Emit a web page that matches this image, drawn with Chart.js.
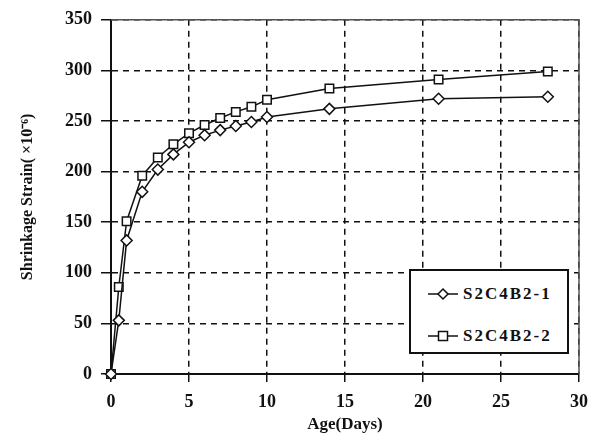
<!DOCTYPE html>
<html>
<head>
<meta charset="utf-8">
<script src="https://cdn.jsdelivr.net/npm/chart.js@4.4.0/dist/chart.umd.min.js"></script>
<style>
  body { margin: 0; background: #fff; }
  #wrap { position: relative; width: 602px; height: 441px; }
  #legend {
    position: absolute; left: 409px; top: 269px; width: 156px; height: 81px;
    border: 2px solid #111; background: #fff;
    font: bold 17px "Liberation Serif", "Times New Roman", serif; letter-spacing: 2px; color: #111;
  }
  .item { position: absolute; left: 16px; display: flex; align-items: center; }
  .item svg { margin-right: 4px; }
</style>
</head>
<body>
<div id="wrap">
  <canvas id="chart" width="602" height="441"></canvas>
  <div id="legend">
    <div class="item" style="top:13px">
      <svg width="32" height="14"><line x1="1" y1="7" x2="31" y2="7" stroke="#111" stroke-width="1.5"/><polygon points="16,2 21,7 16,12 11,7" fill="#fff" stroke="#111" stroke-width="1.5"/></svg>
      <span>S2C4B2-1</span>
    </div>
    <div class="item" style="top:55px">
      <svg width="32" height="14"><line x1="1" y1="7" x2="31" y2="7" stroke="#111" stroke-width="1.5"/><rect x="11.5" y="2.5" width="9" height="9" fill="#fff" stroke="#111" stroke-width="1.5"/></svg>
      <span>S2C4B2-2</span>
    </div>
  </div>
</div>
<script>
const ages = [0, 0.5, 1, 2, 3, 4, 5, 6, 7, 8, 9, 10, 14, 21, 28];
const strain1 = [0, 53, 132, 180, 202, 217, 229, 236, 241, 245, 249, 254, 262, 272, 274];
const strain2 = [0, 86, 151, 196, 214, 227, 238, 246, 253, 259, 264, 271, 282, 291, 299];
const seriesNames = ['S2C4B2-1', 'S2C4B2-2'];

const serif = '"Liberation Serif", "Times New Roman", serif';
Chart.defaults.font.family = serif;
Chart.defaults.color = '#111';

const toPoints = (vals) => vals.map((v, i) => ({ x: ages[i], y: v }));

// solid frame round the plot area
const frame = {
  id: 'frame',
  afterDraw(chart) {
    const { ctx, chartArea: a } = chart;
    ctx.save();
    ctx.strokeStyle = '#555';
    ctx.lineWidth = 1.5;
    ctx.beginPath();
    ctx.moveTo(a.left, a.top);
    ctx.lineTo(a.right, a.top);
    ctx.lineTo(a.right, a.bottom);
    ctx.stroke();
    ctx.restore();
  },
};

new Chart(document.getElementById('chart'), {
  type: 'line',
  data: {
    datasets: [
      {
        label: seriesNames[0],
        data: toPoints(strain1),
        borderColor: '#111',
        borderWidth: 1.5,
        pointStyle: 'rectRot',
        pointRadius: 5.5,
        pointBorderWidth: 1.5,
        pointBackgroundColor: '#fff',
        pointBorderColor: '#111',
        tension: 0,
        clip: false,
      },
      {
        label: seriesNames[1],
        data: toPoints(strain2),
        borderColor: '#111',
        borderWidth: 1.5,
        pointStyle: 'rect',
        pointRadius: 6,
        pointBorderWidth: 1.5,
        pointBackgroundColor: '#fff',
        pointBorderColor: '#111',
        tension: 0,
        clip: false,
      },
    ],
  },
  options: {
    responsive: false,
    animation: false,
    layout: { padding: { left: 0, right: 23, top: 19, bottom: 0 } },
    plugins: { legend: { display: false }, tooltip: { enabled: false } },
    scales: {
      x: {
        type: 'linear',
        min: 0,
        max: 30,
        afterFit: (s) => { s.height = 67; },
        ticks: { stepSize: 5, padding: 10, font: { size: 18, weight: 'bold' } },
        grid: { color: '#111', lineWidth: 1.5, tickLength: 8, tickBorderDash: [], tickColor: '#111' },
        border: { color: '#111', width: 2, dash: [6, 5] },
        title: { display: true, text: 'Age(Days)', font: { size: 17, weight: 'bold' }, padding: { top: 0, bottom: 6 } },
      },
      y: {
        min: 0,
        max: 350,
        afterFit: (s) => { s.width = 111; },
        ticks: { stepSize: 50, padding: 9, font: { size: 18, weight: 'bold' } },
        grid: { color: '#111', lineWidth: 1.5, tickLength: 10, tickBorderDash: [], tickColor: '#111' },
        border: { color: '#111', width: 2, dash: [6, 5] },
        title: { display: true, text: 'Shrinkage Strain( ×10⁻⁶)', font: { size: 16, weight: 'bold' }, padding: { top: 18, bottom: 0 } },
      },
    },
  },
  plugins: [frame],
});
</script>
</body>
</html>
